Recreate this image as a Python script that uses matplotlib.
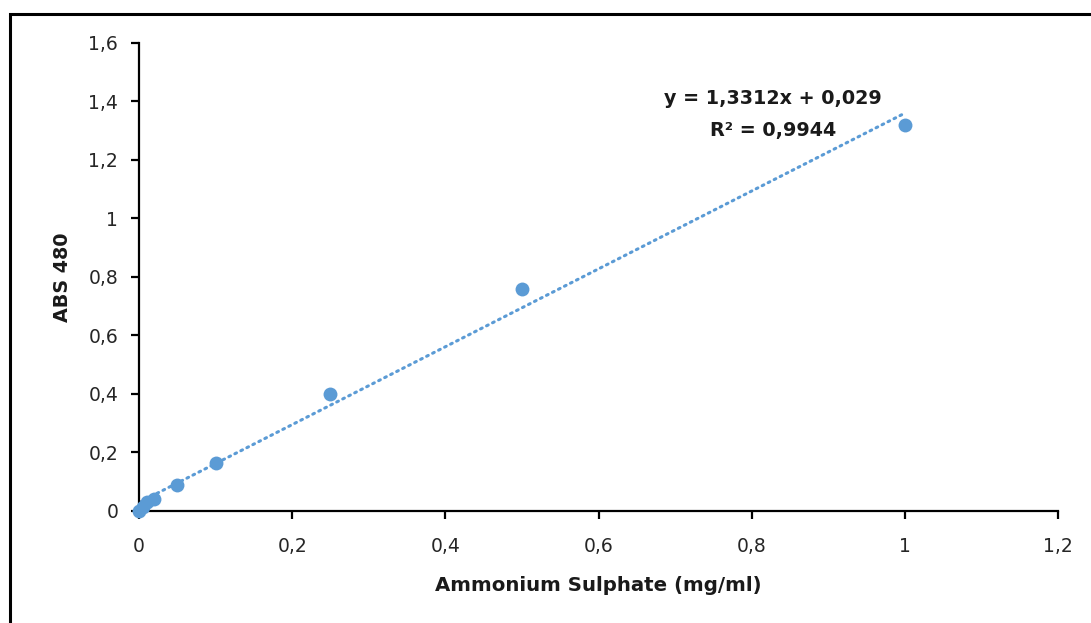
import matplotlib
matplotlib.use("Agg")
import matplotlib.pyplot as plt
from matplotlib.patches import Rectangle
from matplotlib.ticker import FuncFormatter
import numpy as np

plt.rcParams['font.family'] = ['DejaVu Sans']

# Standard curve: ammonium sulphate concentration vs absorbance at 480 nm
concentration = [0.0, 0.005, 0.01, 0.02, 0.05, 0.1, 0.25, 0.5, 1.0]
absorbance = [0.0, 0.015, 0.03, 0.04, 0.09, 0.163, 0.40, 0.76, 1.32]

# Linear trendline coefficients
slope = 1.3312
intercept = 0.029
r_squared = 0.9944

x_ticks = [0, 0.2, 0.4, 0.6, 0.8, 1.0, 1.2]
y_ticks = [0, 0.2, 0.4, 0.6, 0.8, 1.0, 1.2, 1.4, 1.6]

blue = '#5B9BD5'


def comma_fmt(v, pos=None):
    return ('%g' % round(v, 3)).replace('.', ',')


fig = plt.figure(figsize=(10.91, 6.23), dpi=100)
ax = fig.add_axes([0.1274, 0.1798, 0.9698 - 0.1274, 0.931 - 0.1798])

# Trendline
xt = np.array([min(concentration), max(concentration)])
ax.plot(xt, slope * xt + intercept, linestyle=(0, (0.6, 1.6)), color=blue,
        linewidth=2.2, dash_capstyle='round', zorder=2)

# Data points
ax.plot(concentration, absorbance, 'o', color=blue, markersize=10,
        markeredgewidth=0, zorder=3, clip_on=False)

ax.set_xlim(0, 1.2)
ax.set_ylim(0, 1.6)
ax.set_xticks(x_ticks)
ax.set_yticks(y_ticks)
ax.xaxis.set_major_formatter(FuncFormatter(comma_fmt))
ax.yaxis.set_major_formatter(FuncFormatter(comma_fmt))

for side in ('top', 'right'):
    ax.spines[side].set_visible(False)
for side in ('left', 'bottom'):
    ax.spines[side].set_linewidth(1.6)
    ax.spines[side].set_color('black')

ax.tick_params(axis='both', direction='out', length=6, width=1.6,
               labelsize=13.5, colors='black', labelcolor='#262626')
ax.tick_params(axis='x', pad=13)
ax.tick_params(axis='y', pad=9)

ax.set_xlabel('Ammonium Sulphate (mg/ml)', fontsize=14.2, fontweight='bold',
              labelpad=14, color='#1a1a1a')
ax.set_ylabel('ABS 480', fontsize=13.8, fontweight='bold', labelpad=12,
              color='#1a1a1a')

eq = 'y = %sx + %s' % (str(slope).replace('.', ','), str(intercept).replace('.', ','))
ax.text(0.828, 1.41, eq, ha='center', va='center', fontsize=13.8,
        fontweight='bold', color='#1a1a1a')
ax.text(0.828, 1.30, 'R² = %s' % str(r_squared).replace('.', ','), ha='center',
        va='center', fontsize=13.8, fontweight='bold', color='#1a1a1a')

# Outer chart border
fig.patches.append(Rectangle((9.5 / 1091, -0.05), 1.2, (623 - 14) / 623 + 0.05,
                             transform=fig.transFigure, fill=False,
                             edgecolor='black', linewidth=2.2))

fig.savefig('out.png', dpi=100)
